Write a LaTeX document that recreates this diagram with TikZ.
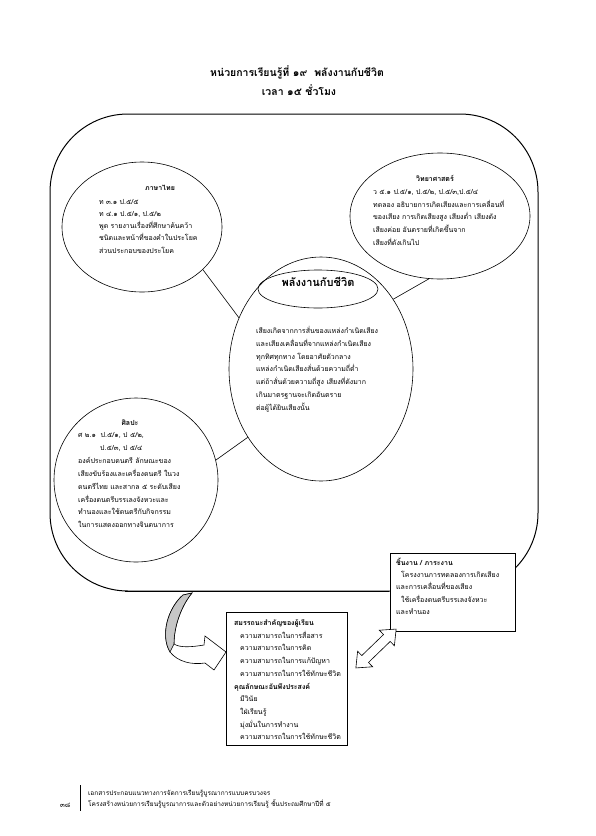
\documentclass[tikz,border=0pt]{standalone}
\usepackage{fontspec}
\newfontfamily\thai[Script=Thai]{Loma}
\usetikzlibrary{shapes.geometric,shapes.arrows}
\begin{document}
\begin{tikzpicture}[x=1pt,y=-1pt,
  oval/.style={draw, ellipse, line width=0.6pt, inner sep=0pt},
  body/.style={anchor=base west, inner sep=0pt, font=\thai\fontsize{7}{8}\selectfont},
  head/.style={anchor=base, inner sep=0pt, font=\thai\bfseries\fontsize{7}{8}\selectfont},
  headw/.style={anchor=base west, inner sep=0pt, font=\thai\bfseries\fontsize{7}{8}\selectfont},
  boxstyle/.style={draw, line width=0.7pt, fill=white, inner sep=0pt},
  link/.style={line width=0.6pt},
  ttl/.style={anchor=base, inner sep=0pt, font=\thai\bfseries\fontsize{10.5}{12}\selectfont}]
\useasboundingbox (0,0) rectangle (595,836);
\fill[white] (0,0) rectangle (595,836);

% title
\node[ttl] (t1) at (297,76) {หน่วยการเรียนรู้ที่ ๑๙\ \ พลังงานกับชีวิต};
\node[ttl] (t2) at (299,95) {เวลา ๑๕ ชั่วโมง};

% frame
\node[draw, line width=1pt, rounded corners=78pt, minimum width=488pt, minimum height=477pt, inner sep=0pt] (frame) at (294,352.5) {};
\draw[line width=1.6pt] ([xshift=75pt]frame.south west) -- ([xshift=-150pt]frame.south east);

% ellipses
\node[oval, minimum width=160pt, minimum height=130pt] (thai) at (142,227) {};
\node[oval, minimum width=180pt, minimum height=126pt] (sci) at (440,216) {};
\node[oval, minimum width=184pt, minimum height=224pt] (core) at (321,369) {};
\node[oval, minimum width=120pt, minimum height=38pt] (coretitle) at (318,289) {};
\node[oval, minimum width=164pt, minimum height=164pt] (art) at (136,480) {};

% links
\draw[link] (thai.-35) -- (core.148);
\draw[link] (sci.-100) -- (core.44);
\draw[link] (art.14) -- (core.-137);

% Thai
\node[head] (thaiT) at (160,190.5) {ภาษาไทย};
\foreach \s [count=\i from 0] in {{ท ๓.๑ ป.๕/๕},{ท ๔.๑ ป.๕/๑, ป.๕/๒},{พูด รายงานเรื่องที่ศึกษาค้นคว้า},{ชนิดและหน้าที่ของคำในประโยค},{ส่วนประกอบของประโยค}}
  \node[body] (thai\i) at (99,{204+12.3*\i}) {\s};

% Science
\node[head] (sciT) at (435,181.5) {วิทยาศาสตร์};
\foreach \s [count=\i from 0] in {{ว ๕.๑ ป.๕/๑, ป.๕/๒, ป.๕/๓,ป.๕/๔},{ทดลอง อธิบายการเกิดเสียงและการเคลื่อนที่},{ของเสียง การเกิดเสียงสูง เสียงต่ำ เสียงดัง},{เสียงค่อย อันตรายที่เกิดขึ้นจาก},{เสียงที่ดังเกินไป}}
  \node[body] (sci\i) at (373,{194.5+12.7*\i}) {\s};

% Core
\node[anchor=base, inner sep=0pt, font=\thai\bfseries\fontsize{11}{12}\selectfont] (coreT) at (318,286) {พลังงานกับชีวิต};
\foreach \s [count=\i from 0] in {{เสียงเกิดจากการสั่นของแหล่งกำเนิดเสียง},{และเสียงเคลื่อนที่จากแหล่งกำเนิดเสียง},{ทุกทิศทุกทาง โดยอาศัยตัวกลาง},{แหล่งกำเนิดเสียงสั่นด้วยความถี่ต่ำ},{แต่ถ้าสั่นด้วยความถี่สูง เสียงที่ดังมาก},{เกินมาตรฐานจะเกิดอันตราย},{ต่อผู้ได้ยินเสียงนั้น}}
  \node[body] (core\i) at (256,{333.5+12.8*\i}) {\s};

% Art
\node[head] (artT) at (130,425.5) {ศิลปะ};
\node[body] (art0) at (78,437.5) {ศ ๒.๑\ \ ป.๕/๑, ป ๕/๒,};
\node[body] (art1) at (100,450.4) {ป.๕/๓, ป ๕/๔};
\foreach \s [count=\i from 2] in {{องค์ประกอบดนตรี ลักษณะของ},{เสียงขับร้องและเครื่องดนตรี ในวง},{ดนตรีไทย และสากล ๕ ระดับเสียง},{เครื่องดนตรีบรรเลงจังหวะและ},{ทำนองและใช้ดนตรีกับกิจกรรม},{ในการแสดงออกทางจินตนาการ}}
  \node[body] (art\i) at (78,{437.5+12.9*\i}) {\s};

% work box
\node[boxstyle, minimum width=125pt, minimum height=78pt] (work) at (452.5,592) {};
\node[headw] (workT) at (396,565.5) {ชิ้นงาน / ภาระงาน};
\node[body] (work1) at (401,577.7) {โครงงานการทดลองการเกิดเสียง};
\node[body] (work2) at (396,589.9) {และการเคลื่อนที่ของเสียง};
\node[body] (work3) at (401,602.1) {ใช้เครื่องดนตรีบรรเลงจังหวะ};
\node[body] (work4) at (396,614.3) {และทำนอง};

% competency box
\node[boxstyle, minimum width=121pt, minimum height=133pt] (comp) at (286.5,678.5) {};
\node[headw] (compT) at (234,625.5) {สมรรถนะสำคัญของผู้เรียน};
\foreach \s [count=\i from 1] in {{ความสามารถในการสื่อสาร},{ความสามารถในการคิด},{ความสามารถในการแก้ปัญหา},{ความสามารถในการใช้ทักษะชีวิต}}
  \node[body] (comp\i) at (240,{625.5+12.7*\i}) {\s};
\node[headw] (charT) at (234,689) {คุณลักษณะอันพึงประสงค์};
\foreach \s [count=\i from 1] in {{มีวินัย},{ใฝ่เรียนรู้},{มุ่งมั่นในการทำงาน},{ความสามารถในการใช้ทักษะชีวิต}}
  \node[body] (char\i) at (240,{689+12.7*\i}) {\s};

% curved arrow
\draw[line width=0.6pt, fill=white] (183,595) .. controls (168,608) and (160,635) .. (170,652)
  .. controls (178,662) and (192,665) .. (205,663) -- (214,670) -- (226,652) -- (205,636) -- (204,645)
  .. controls (192,647) and (180,648) .. (174,644)
  .. controls (174,625) and (182,605) .. (192,593) -- cycle;
\draw[line width=0.6pt, fill=gray!45] (183,595) .. controls (168,608) and (160,635) .. (170,652)
  -- (174,644) .. controls (174,625) and (182,605) .. (192,593) -- cycle;

% double arrow
\node[double arrow, draw, fill=white, line width=0.6pt, rotate=44, minimum height=56pt, inner xsep=0pt, inner ysep=4.5pt, double arrow head extend=6pt, double arrow tip angle=80] (darr) at (376,648.5) {};

% footer
\node[body] (pg) at (60,807) {๓๘};
\draw[line width=0.6pt] (80,785) -- (80,811);
\node[body, font=\thai\fontsize{6.5}{8}\selectfont] (f1) at (88,795) {เอกสารประกอบแนวทางการจัดการเรียนรู้บูรณาการแบบครบวงจร};
\node[body, font=\thai\fontsize{6.5}{8}\selectfont] (f2) at (88,806) {โครงสร้างหน่วยการเรียนรู้บูรณาการและตัวอย่างหน่วยการเรียนรู้ ชั้นประถมศึกษาปีที่ ๕};
\end{tikzpicture}
\end{document}
